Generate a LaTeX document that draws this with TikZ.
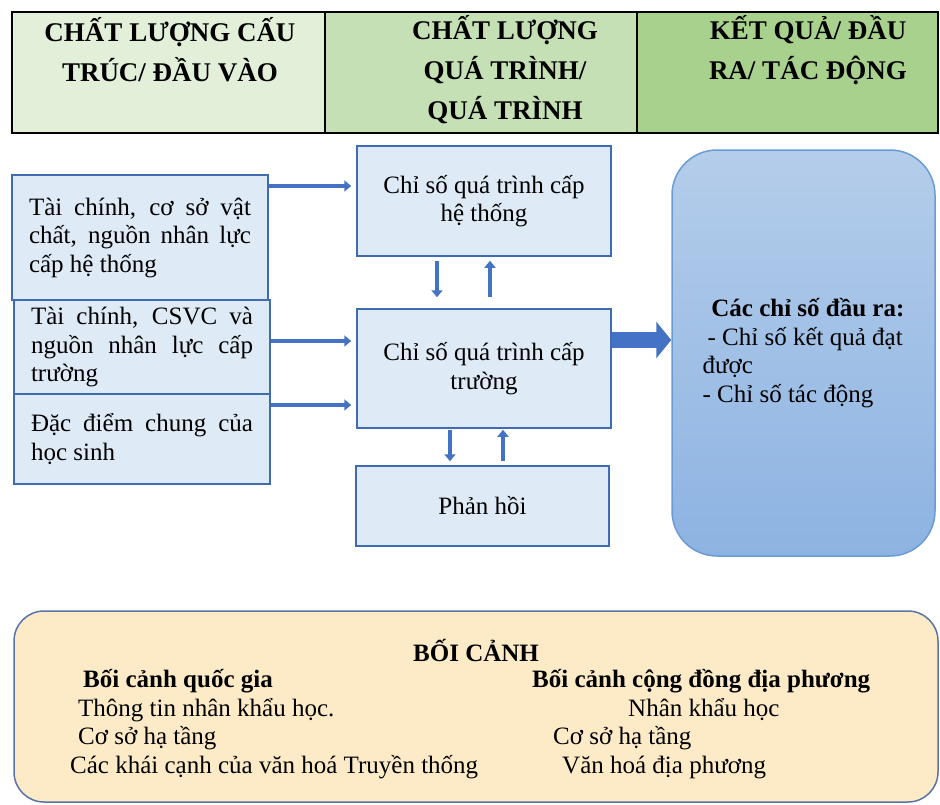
\documentclass[tikz,border=0pt]{standalone}
\usepackage{fontspec}
\setmainfont{Liberation Serif}
\usetikzlibrary{arrows.meta}
\definecolor{hdA}{HTML}{E2EFD9}
\definecolor{hdB}{HTML}{C5E0B4}
\definecolor{hdC}{HTML}{A9D18E}
\definecolor{bxfill}{HTML}{DEEAF6}
\definecolor{bxline}{HTML}{3F6CB0}
\definecolor{arr}{HTML}{4472C4}
\definecolor{restop}{HTML}{B4CDEA}
\definecolor{resbot}{HTML}{8DB3E2}
\definecolor{resline}{HTML}{6A9BD3}
\definecolor{ctxfill}{HTML}{FDEBC8}
\definecolor{ctxline}{HTML}{5B73A6}
\hyphenpenalty=10000
\exhyphenpenalty=10000

\begin{document}
\begin{tikzpicture}
   [x=1pt,y=-1pt,
    every node/.style={font=\fontsize{25}{28.5}\selectfont},
    inbox/.style={draw=bxline, fill=bxfill, line width=1.5pt, text width=222pt, inner xsep=17pt, inner ysep=0pt, align=justify},
    procbox/.style={draw=bxline, fill=bxfill, line width=1.5pt, minimum width=254pt, inner sep=0pt, align=center},
    hdtext/.style={font=\bfseries\fontsize{27}{40}\selectfont, inner sep=0pt, align=center},
    ctxtext/.style={anchor=west, inner sep=0pt, text height=19pt, text depth=6pt},
    flow/.style={draw=arr, line width=3.5pt, -{Triangle[width=11pt,length=7pt]}}]

  \useasboundingbox (0,0) rectangle (940,804);

  \filldraw[fill=hdA, draw=black, line width=2pt] (12,12) rectangle (325,133);
  \filldraw[fill=hdB, draw=black, line width=2pt] (325,12) rectangle (637,133);
  \filldraw[fill=hdC, draw=black, line width=2pt] (637,12) rectangle (938,133);

  \node[hdtext] (hdin)  at (170,50) {CHẤT LƯỢNG CẤU\\TRÚC/ ĐẦU VÀO};
  \node[hdtext] (hdpro) at (505,70) {CHẤT LƯỢNG\\QUÁ TRÌNH/\\QUÁ TRÌNH};
  \node[hdtext] (hdout) at (808,50) {KẾT QUẢ/ ĐẦU\\RA/ TÁC ĐỘNG};

  \node[inbox, minimum height=125pt] (fin)  at (140,237.5) {Tài chính, cơ sở vật chất, nguồn nhân lực cấp hệ thống};
  \node[inbox, minimum height=94pt]  (csvc) at (142,347)   {Tài chính, CSVC và nguồn nhân lực cấp trường};
  \node[inbox, minimum height=90pt]  (hs)   at (142,439)   {Đặc điểm chung của học sinh};

  \node[procbox, minimum height=110pt] (sys) at (484,201)   {Chỉ số quá trình cấp\\hệ thống};
  \node[procbox, minimum height=119pt] (sch) at (484,368.5) {Chỉ số quá trình cấp\\trường};
  \node[procbox, minimum width=253pt, minimum height=80pt] (fb) at (482.5,506) {Phản hồi};

  \node[draw=resline, line width=1.5pt, rounded corners=45pt, top color=restop, bottom color=resbot,
        minimum width=263pt, minimum height=406pt, align=left] (out) at (803.5,353)
        {\hspace*{0.35em}\textbf{Các chỉ số đầu ra:}\\\hspace*{0.2em}- Chỉ số kết quả đạt\\được\\- Chỉ số tác động};

  \coordinate (outlvl) at (640,340);

  \foreach \src/\dst/\yy in {fin/sys/186, csvc/sch/341, hs/sch/405}
    \draw[flow, shorten >=5pt] (\src.east |- 0,\yy) -- (\dst.west |- 0,\yy);

  \foreach \xx/\hi/\lo/\sa/\sb in {437/sys/sch/4/11, 450/sch/fb/1/4}
    \draw[flow, shorten <=\sa pt, shorten >=\sb pt] (\hi.south -| \xx,0) -- (\lo.north -| \xx,0);

  \foreach \xx/\hi/\lo/\sa/\sb in {490/sys/sch/11/4, 503/sch/fb/4/1}
    \draw[flow, shorten <=\sa pt, shorten >=\sb pt] (\lo.north -| \xx,0) -- (\hi.south -| \xx,0);

  \draw[draw=arr, line width=16pt, -{Triangle[width=36pt,length=15pt]}] (sch.east |- outlvl) -- (out.west |- outlvl);

  \node[draw=ctxline, line width=1.5pt, fill=ctxfill, rounded corners=30pt, minimum width=924pt, minimum height=191pt, inner sep=0pt] (ctx) at (476,706.5) {};

  \node[ctxtext, anchor=center, font=\bfseries\fontsize{25}{28.5}\selectfont] (ctxhead) at (476,655) {BỐI CẢNH};
  \node[ctxtext, font=\bfseries\fontsize{25}{28.5}\selectfont] (nat) at (83,681) {Bối cảnh quốc gia};
  \node[ctxtext, font=\bfseries\fontsize{25}{28.5}\selectfont] (loc) at (532,681) {Bối cảnh cộng đồng địa phương};
  \node[ctxtext] (nat1) at (78,710) {Thông tin nhân khẩu học.};
  \node[ctxtext] (nat2) at (78,738) {Cơ sở hạ tầng};
  \node[ctxtext] (nat3) at (70,767) {Các khái cạnh của văn hoá Truyền thống};
  \node[ctxtext] (loc1) at (628,710) {Nhân khẩu học};
  \node[ctxtext] (loc2) at (553,738) {Cơ sở hạ tầng};
  \node[ctxtext] (loc3) at (562,767) {Văn hoá địa phương};

\end{tikzpicture}
\end{document}
